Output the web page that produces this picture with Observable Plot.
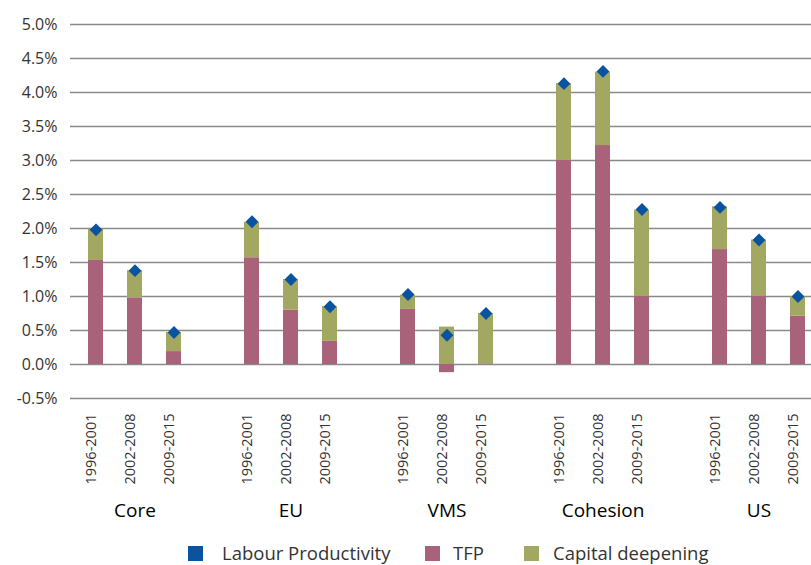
<!DOCTYPE html>
<html>
<head>
<meta charset="utf-8">
<script src="https://cdn.jsdelivr.net/npm/d3@7"></script>
<script src="https://cdn.jsdelivr.net/npm/@observablehq/plot@0.6"></script>
<style>
  html, body { margin: 0; padding: 0; background: #fff; }
  body { width: 811px; height: 565px; position: relative; overflow: hidden; font-family: "Open Sans", sans-serif; }
  #chart svg { display: block; }
  .legend { position: absolute; left: 0; top: 0; width: 811px; height: 565px; pointer-events: none; }
  .sw { position: absolute; width: 15px; height: 15px; top: 546px; }
  .lt { position: absolute; top: 540px; font-size: 18.5px; color: #333; line-height: 26px; white-space: nowrap; }
</style>
</head>
<body>
<div id="chart"></div>
<div class="legend" id="legend"></div>
<script>
const groups = ["Core", "EU", "VMS", "Cohesion", "US"];
const periods = ["1996-2001", "2002-2008", "2009-2015"];
const labourProductivity = [1.98, 1.38, 0.47, 2.10, 1.25, 0.85, 1.03, 0.43, 0.75, 4.13, 4.31, 2.28, 2.31, 1.83, 1.00];
const tfp = [1.53, 0.98, 0.19, 1.57, 0.80, 0.34, 0.81, -0.12, 0.01, 3.00, 3.22, 1.00, 1.69, 1.01, 0.71];
const capitalDeepening = [0.46, 0.40, 0.28, 0.52, 0.45, 0.51, 0.21, 0.55, 0.74, 1.13, 1.08, 1.27, 0.63, 0.82, 0.29];
const yTicks = [-0.5, 0, 0.5, 1.0, 1.5, 2.0, 2.5, 3.0, 3.5, 4.0, 4.5, 5.0];
const seriesNames = ["Labour Productivity", "TFP", "Capital deepening"];
const seriesColors = ["#0a53a1", "#a8637a", "#a2a862"];

// x slots: three periods per group, plus an empty slot between groups
const slots = [];
groups.forEach((g, i) => {
  periods.forEach(p => slots.push(g + "|" + p));
  if (i < groups.length - 1) slots.push("gap" + i);
});

const rows = [];
groups.forEach((g, gi) => periods.forEach((p, pi) => {
  const k = gi * periods.length + pi;
  rows.push({key: g + "|" + p, group: g, period: p, lp: labourProductivity[k], tfp: tfp[k], cap: capitalDeepening[k], mid: pi === 1});
}));
const stacked = [];
rows.forEach(r => stacked.push({key: r.key, series: "TFP", value: r.tfp}));
rows.forEach(r => stacked.push({key: r.key, series: "Capital deepening", value: r.cap}));

const chart = Plot.plot({
  width: 811,
  height: 530,
  marginLeft: 70,
  marginRight: 0,
  marginTop: 24,
  marginBottom: 132,
  style: {fontFamily: "'Open Sans', sans-serif", background: "#fff"},
  x: {domain: slots, range: [70, 822], paddingInner: 0.62, paddingOuter: 0.31, axis: null},
  y: {domain: [-0.5, 5.0], axis: null},
  color: {domain: seriesNames, range: seriesColors},
  marks: [
    Plot.ruleY(yTicks, {stroke: "#8a8a8a", strokeWidth: 1.3}),
    Plot.barY(stacked, Plot.stackY({x: "key", y: "value", fill: "series", order: ["TFP", "Capital deepening"]})),
    Plot.dot(rows, {x: "key", y: "lp", symbol: "diamond2", r: 5.8, fill: seriesColors[0], stroke: null}),
    Plot.axisY({ticks: yTicks, tickSize: 0, tickPadding: 13, tickFormat: d => d.toFixed(1) + "%", fontSize: 16, fill: "#333", label: null}),
    Plot.text(rows, {x: "key", frameAnchor: "bottom", dy: 15, text: "period", rotate: -90, textAnchor: "end", fontSize: 14.5, fill: "#333"}),
    Plot.text(rows.filter(r => r.mid), {x: "key", frameAnchor: "bottom", dy: 118, text: "group", fontSize: 19, fill: "#000"})
  ]
});
document.getElementById("chart").appendChild(chart);

const legend = document.getElementById("legend");
const swLeft = [188, 425, 524];
const txtLeft = [222, 453, 553];
seriesNames.forEach((n, i) => {
  const s = document.createElement("div");
  s.className = "sw";
  s.style.left = swLeft[i] + "px";
  s.style.background = seriesColors[i];
  legend.appendChild(s);
  const t = document.createElement("div");
  t.className = "lt";
  t.style.left = txtLeft[i] + "px";
  t.textContent = n;
  legend.appendChild(t);
});
</script>
</body>
</html>
